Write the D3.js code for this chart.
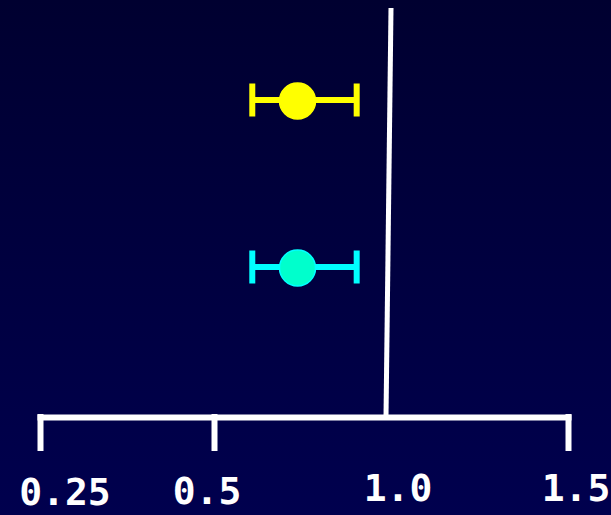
<!DOCTYPE html>
<html>
<head>
<meta charset="utf-8">
<script src="https://cdn.jsdelivr.net/npm/d3@7"></script>
<style>
  html, body { margin: 0; padding: 0; background: #000033; }
  svg { display: block; }
</style>
</head>
<body>
<div id="chart"></div>
<script>
// data
var groups = ["Group 1", "Group 2"];
var estimates = [0.74, 0.74];
var lower = [0.61, 0.61];
var upper = [0.91, 0.91];
var barColors = ["#ffff00", "#00ffff"];
var dotColors = ["#ffff00", "#00ffcc"];
var tickValues = [0.25, 0.5, 1.0, 1.5];
var tickLabels = ["0.25", "0.5", "1.0", "1.5"];
var refValue = 1.0;

var width = 611, height = 515;

// label nudges (dx, baseline y) to follow the slide's hand placement
var labelNudge = {"0.25": [25, 505], "0.5": [-7, 504], "1.0": [10, 501], "1.5": [8, 501]};

var svg = d3.select("#chart")
  .append("svg")
    .attr("width", width)
    .attr("height", height);

// background gradient
var defs = svg.append("defs");
var grad = defs.append("linearGradient")
    .attr("id", "bg")
    .attr("x1", 0).attr("y1", 0).attr("x2", 0).attr("y2", 1);
grad.append("stop").attr("offset", "0%").attr("stop-color", "#000030");
grad.append("stop").attr("offset", "100%").attr("stop-color", "#00004e");
svg.append("rect")
    .attr("width", width)
    .attr("height", height)
    .attr("fill", "url(#bg)");

// the slide's axis is not evenly spaced, so use a piecewise scale
var x = d3.scaleLinear()
    .domain(tickValues)
    .range([40, 214, 388, 568]);

var y = d3.scalePoint()
    .domain(groups)
    .range([100, 267]);

var axisY = 417;

// reference line at 1.0 (slightly tilted like the original)
svg.append("line")
    .attr("x1", x(refValue) + 3)
    .attr("y1", 8)
    .attr("x2", x(refValue) - 2)
    .attr("y2", axisY)
    .attr("stroke", "#ffffff")
    .attr("stroke-width", 5);

// x axis
var axis = svg.append("g")
    .attr("transform", "translate(0," + axisY + ")")
    .call(d3.axisBottom(x)
      .tickValues(tickValues.filter(function(d) { return d !== refValue; }))
      .tickSizeOuter(0)
      .tickSizeInner(31)
      .tickFormat(""));
axis.select(".domain")
    .attr("stroke", "#ffffff")
    .attr("stroke-width", 6)
    .attr("stroke-linecap", "square");
axis.selectAll(".tick line")
    .attr("stroke", "#ffffff")
    .attr("stroke-width", 6)
    .attr("stroke-linecap", "square");

// tick labels
svg.selectAll("text.lbl")
  .data(tickValues)
  .enter()
  .append("text")
    .attr("class", "lbl")
    .attr("x", function(d, i) { return x(d) + labelNudge[tickLabels[i]][0]; })
    .attr("y", function(d, i) { return labelNudge[tickLabels[i]][1]; })
    .attr("text-anchor", "middle")
    .attr("fill", "#ffffff")
    .style("font-family", "'DejaVu Sans Mono', monospace")
    .style("font-weight", "bold")
    .style("font-size", "38px")
    .text(function(d, i) { return tickLabels[i]; });

// confidence intervals
var rows = groups.map(function(g, i) {
  return {group: g, est: estimates[i], lo: lower[i], hi: upper[i], bar: barColors[i], dot: dotColors[i]};
});

var capH = 33;
var g = svg.selectAll("g.row")
  .data(rows)
  .enter()
  .append("g")
    .attr("class", "row");

g.append("line")
    .attr("x1", function(d) { return x(d.lo); })
    .attr("x2", function(d) { return x(d.hi); })
    .attr("y1", function(d) { return y(d.group); })
    .attr("y2", function(d) { return y(d.group); })
    .attr("stroke", function(d) { return d.bar; })
    .attr("stroke-width", 6);

g.append("line")
    .attr("x1", function(d) { return x(d.lo); })
    .attr("x2", function(d) { return x(d.lo); })
    .attr("y1", function(d) { return y(d.group) - capH / 2; })
    .attr("y2", function(d) { return y(d.group) + capH / 2; })
    .attr("stroke", function(d) { return d.bar; })
    .attr("stroke-width", 6);

g.append("line")
    .attr("x1", function(d) { return x(d.hi); })
    .attr("x2", function(d) { return x(d.hi); })
    .attr("y1", function(d) { return y(d.group) - capH / 2; })
    .attr("y2", function(d) { return y(d.group) + capH / 2; })
    .attr("stroke", function(d) { return d.bar; })
    .attr("stroke-width", 6);

g.append("circle")
    .attr("cx", function(d) { return x(d.est); })
    .attr("cy", function(d) { return y(d.group) + 1; })
    .attr("r", 18)
    .attr("fill", function(d) { return d.dot; })
    .attr("stroke", function(d) { return d.bar; })
    .attr("stroke-width", 1.5);
</script>
</body>
</html>
